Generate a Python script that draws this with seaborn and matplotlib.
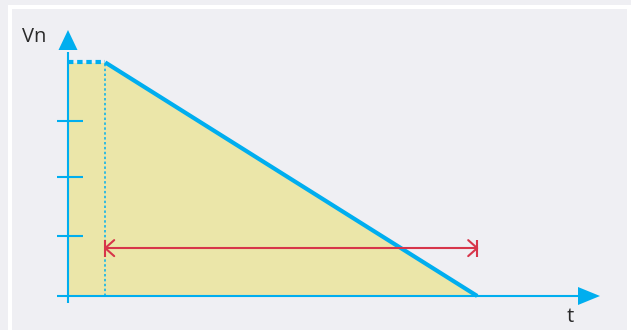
import numpy as np
import pandas as pd
import matplotlib
matplotlib.use("Agg")
import matplotlib.pyplot as plt
from matplotlib.patches import Rectangle, Polygon
import seaborn as sns

# ---- data (schematic values) ----
plateau_t = [0, 1]
plateau_vn = [4, 4]
ramp_t = [1, 11]
ramp_vn = [4, 0]
fill_t = [0, 1, 11]
fill_vn = [4, 4, 0]
tick_vn = [1.03, 2.04, 3.0]
span_t = [1, 11]
span_vn = 0.82
x_label = "t"
y_label = "Vn"

# ---- styling ----
CYAN = "#00aeef"
FILL = "#ebe6a9"
RED = "#d7354a"
BG = "#efeff3"
TEXT = "#2a2a2a"

W, H = 631, 330
PX_T = 37.2     # pixels per t-unit
PX_V = 58.4     # pixels per Vn-unit
X0, Y0 = 68, 296  # pixel position of origin

sns.set_theme(style="white")
plt.rcParams["font.family"] = ["Open Sans", "DejaVu Sans"]

fig = plt.figure(figsize=(W / 100, H / 100), dpi=100)
fig.patch.set_facecolor(BG)
fig.add_artist(Rectangle((8 / W, 0), 1, 1 - 5 / H, transform=fig.transFigure,
                         facecolor="white", edgecolor="none", zorder=-2))
fig.add_artist(Rectangle((12 / W, 0), (627 - 12) / W, 1 - 9 / H, transform=fig.transFigure,
                         facecolor=BG, edgecolor="none", zorder=-1))

ax = fig.add_axes([0, 0, 1, 1])
ax.set_facecolor("none")

def dx(px):
    return px / PX_T

def dy(px):
    return px / PX_V

# fill under curve
ax.fill_between(fill_t, fill_vn, 0, color=FILL, lw=0, zorder=1)

# vertical thin dotted line at plateau end
ax.plot([plateau_t[1], plateau_t[1]], [0, plateau_vn[1]], color=CYAN, lw=1.1,
        linestyle=(0, (1.6, 1.6)), zorder=2)

# axes lines
ax.plot([0, 0], [dy(-7), plateau_vn[0] + dy(10)], color=CYAN, lw=1.5, zorder=3, solid_capstyle="butt")
ax.plot([dx(-11), dx(510)], [0, 0], color=CYAN, lw=1.5, zorder=3, solid_capstyle="butt")

# y-axis arrowhead
ytip = dy(266)
ybase = dy(246)
ax.add_patch(Polygon([[dx(-9.5), ybase], [dx(9.5), ybase], [0, ytip]], closed=True,
                     facecolor=CYAN, edgecolor="none", zorder=4))
# x-axis arrowhead
xtip = dx(532)
xbase = dx(510)
ax.add_patch(Polygon([[xbase, dy(9)], [xbase, dy(-9)], [xtip, 0]], closed=True,
                     facecolor=CYAN, edgecolor="none", zorder=4))

# y ticks
for v in tick_vn:
    ax.plot([dx(-11), dx(15)], [v, v], color=CYAN, lw=1.5, zorder=3, solid_capstyle="butt")

# plateau (dotted) and ramp (solid) lines
df_plateau = pd.DataFrame({"t": plateau_t, "vn": plateau_vn})
df_ramp = pd.DataFrame({"t": ramp_t, "vn": ramp_vn})
sns.lineplot(data=df_plateau, x="t", y="vn", ax=ax, color=CYAN, lw=3.0,
             linestyle=(0, (1.3, 0.9)), zorder=5)
sns.lineplot(data=df_ramp, x="t", y="vn", ax=ax, color=CYAN, lw=3.0, zorder=5,
             solid_capstyle="butt")
ax.axis("off")
ax.set_xlim(-X0 / PX_T, (W - X0) / PX_T)
ax.set_ylim(-(H - Y0) / PX_V, Y0 / PX_V)

# red dimension arrow
a, b = span_t
ax.plot([a, b], [span_vn, span_vn], color=RED, lw=1.5, zorder=6, solid_capstyle="butt")
for xe in (a, b):
    ax.plot([xe, xe], [span_vn - dy(8.5), span_vn + dy(8.5)], color=RED, lw=1.5, zorder=6,
            solid_capstyle="butt")
ax.plot([a + dx(9), a, a + dx(9)], [span_vn + dy(8), span_vn, span_vn - dy(8)],
        color=RED, lw=1.5, zorder=6)
ax.plot([b - dx(9), b, b - dx(9)], [span_vn + dy(8), span_vn, span_vn - dy(8)],
        color=RED, lw=1.5, zorder=6)

# labels
ax.text(dx(-34), dy(259), y_label, ha="center", va="center", fontsize=14.5,
        color=TEXT, fontweight="normal")
ax.text(dx(502), dy(-21), x_label, ha="center", va="center", fontsize=14.5,
        color=TEXT, fontweight="normal")

fig.savefig("out.png", dpi=100, facecolor=fig.get_facecolor())
